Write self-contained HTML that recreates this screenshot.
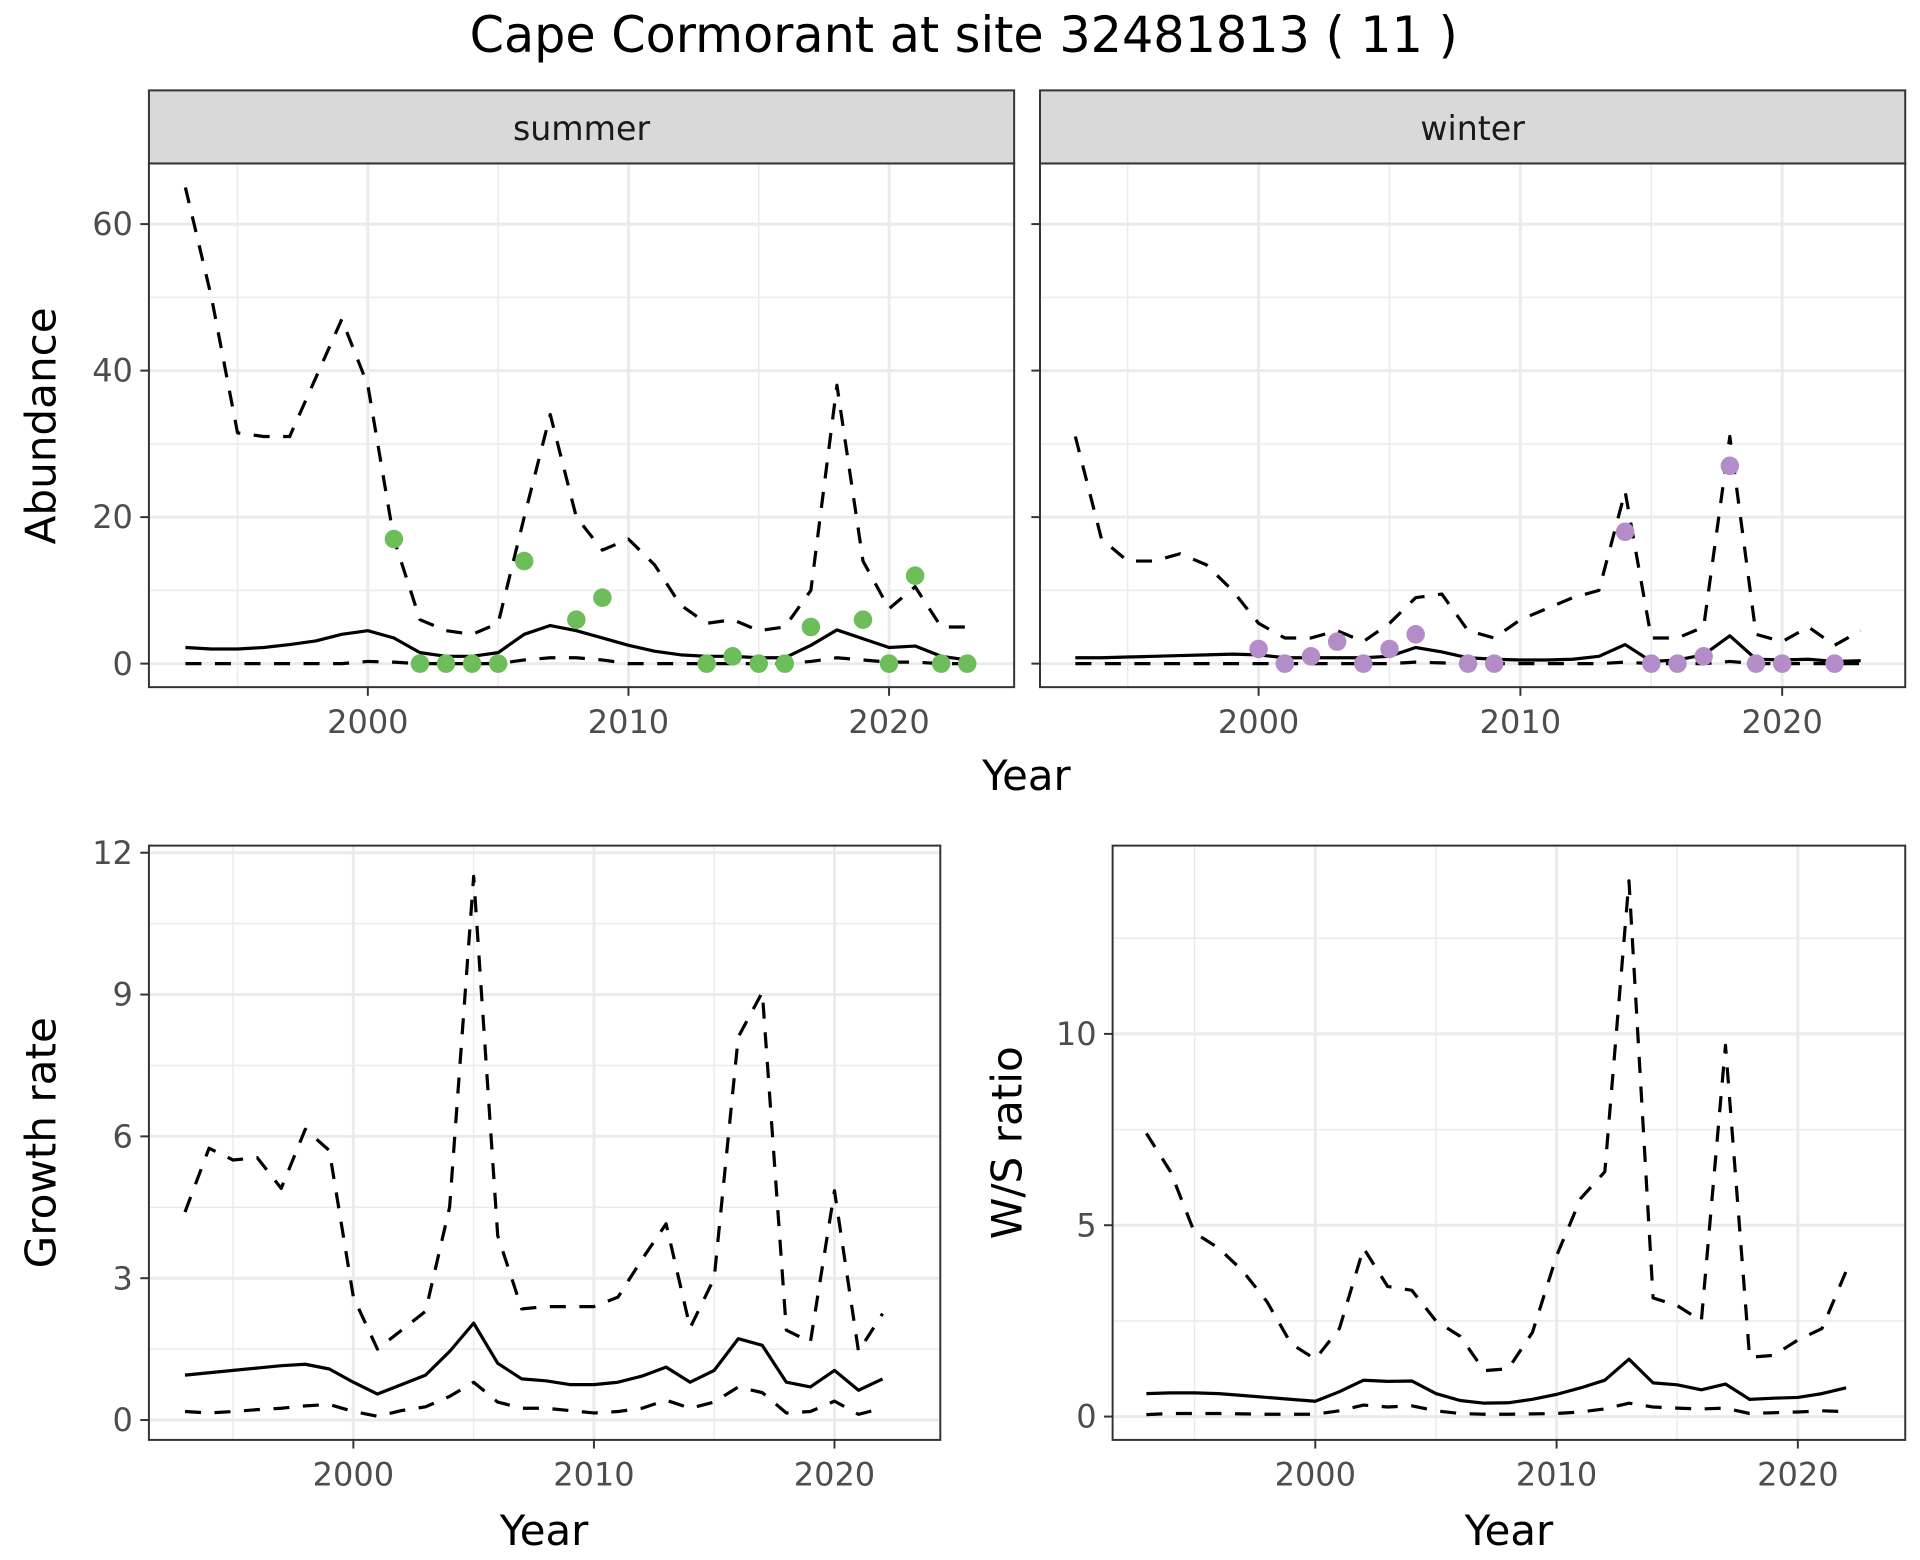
<!DOCTYPE html>
<html><head><meta charset="utf-8"><style>
html,body{margin:0;padding:0;background:#fff}
svg{display:block}
text{font-family:"DejaVu Sans","Liberation Sans",sans-serif}
</style></head><body>
<svg id="chart" width="1920" height="1560" viewBox="0 0 1560 1260" preserveAspectRatio="none" xmlns="http://www.w3.org/2000/svg">
<text x="783" y="42" font-size="40" text-anchor="middle" fill="#000">Cape Cormorant at site 32481813 ( 11 )</text>
</svg>
<script>
const yearsA = [1993,1994,1995,1996,1997,1998,1999,2000,2001,2002,2003,2004,2005,2006,2007,2008,2009,2010,2011,2012,2013,2014,2015,2016,2017,2018,2019,2020,2021,2022,2023];
const sumUpper = [65,50,31.5,31,31,39,47,38,17,6,4.5,4,5.5,20,34,20,15.5,17,13.5,8,5.5,6,4.5,5,10,38,14,7.5,10.5,5,5];
const sumMean = [2.2,2.0,2.0,2.2,2.6,3.1,4,4.5,3.5,1.5,1,1,1.5,4,5.2,4.5,3.5,2.5,1.7,1.2,1,1,0.8,0.8,2.5,4.6,3.4,2.2,2.4,1,0.5];
const sumLower = [0,0,0,0,0,0,0,0.3,0.2,0,0,0,0,0.5,0.8,0.8,0.5,0,0,0,0,0,0,0,0.3,0.8,0.5,0.2,0.2,0,0];
const sumPtYears = [2001,2002,2003,2004,2005,2006,2008,2009,2013,2014,2015,2016,2017,2019,2020,2021,2022,2023];
const sumPtVals = [17,0,0,0,0,14,6,9,0,1,0,0,5,6,0,12,0,0];
const winUpper = [31,17,14,14,15,13.5,10,5.5,3.5,3.5,4.5,3,5.5,9,9.5,4.5,3.5,6,7.5,9,10,23.5,3.5,3.5,5,31,4,3,5,2.5,4.5];
const winMean = [0.8,0.8,0.9,1,1.1,1.2,1.3,1.2,0.8,0.8,0.8,0.8,1,2.2,1.6,0.8,0.6,0.5,0.5,0.6,1,2.6,0.3,0.5,1.2,3.8,0.6,0.5,0.6,0.3,0.4];
const winLower = [0,0,0,0,0,0,0,0,0,0,0,0,0,0.2,0.1,0,0,0,0,0,0,0.2,0,0,0,0.3,0,0,0,0,0];
const winPtYears = [2000,2001,2002,2003,2004,2005,2006,2008,2009,2014,2015,2016,2017,2018,2019,2020,2022];
const winPtVals = [2,0,1,3,0,2,4,0,0,18,0,0,1,27,0,0,0];
const yearsB = [1993,1994,1995,1996,1997,1998,1999,2000,2001,2002,2003,2004,2005,2006,2007,2008,2009,2010,2011,2012,2013,2014,2015,2016,2017,2018,2019,2020,2021,2022];
const grUpper = [4.4,5.75,5.5,5.55,4.9,6.15,5.7,2.6,1.5,1.9,2.3,4.5,11.5,3.9,2.35,2.4,2.4,2.4,2.6,3.4,4.15,1.95,3,8.1,9.05,1.9,1.65,4.85,1.45,2.25];
const grMean = [0.95,1.0,1.05,1.1,1.15,1.18,1.08,0.8,0.55,0.75,0.95,1.45,2.05,1.2,0.87,0.83,0.75,0.75,0.8,0.93,1.12,0.8,1.05,1.72,1.58,0.8,0.7,1.05,0.63,0.87];
const grLower = [0.18,0.15,0.18,0.22,0.25,0.3,0.33,0.18,0.08,0.2,0.28,0.5,0.8,0.38,0.25,0.25,0.2,0.15,0.18,0.25,0.42,0.25,0.38,0.7,0.58,0.15,0.18,0.4,0.12,0.25];
const wsUpper = [7.4,6.4,4.8,4.4,3.8,3.0,1.9,1.5,2.3,4.4,3.4,3.3,2.5,2.1,1.2,1.25,2.2,4.2,5.7,6.4,14,3.1,2.9,2.5,9.7,1.55,1.6,2.0,2.3,3.8];
const wsMean = [0.6,0.62,0.62,0.6,0.55,0.5,0.45,0.4,0.65,0.95,0.92,0.93,0.6,0.42,0.35,0.36,0.45,0.58,0.75,0.95,1.5,0.88,0.83,0.7,0.85,0.45,0.48,0.5,0.6,0.75];
const wsLower = [0.05,0.08,0.08,0.08,0.07,0.06,0.06,0.06,0.15,0.3,0.25,0.28,0.15,0.08,0.06,0.06,0.07,0.08,0.12,0.2,0.35,0.25,0.22,0.2,0.22,0.08,0.1,0.12,0.15,0.13];
const xTicks = [2000,2010,2020];
const xMinor = [1995,2005,2015];
const abTicks = [0,20,40,60];
const grTicks = [0,3,6,9,12];
const wsTicks = [0,5,10];

const NS = 'http://www.w3.org/2000/svg';
const svg = document.getElementById('chart');
function el(tag, attrs, parent){const e=document.createElementNS(NS,tag);for(const k in attrs)e.setAttribute(k,attrs[k]);(parent||svg).appendChild(e);return e;}

function panel(name,cfg){
  const g=el('g',{});
  
  
  const sx=v=>cfg.x0+(v-cfg.xmin)/(cfg.xmax-cfg.xmin)*(cfg.x1-cfg.x0);
  const sy=v=>cfg.y1-(v-cfg.ymin)/(cfg.ymax-cfg.ymin)*(cfg.y1-cfg.y0);
  xMinor.forEach(v=>el('line',{x1:sx(v),x2:sx(v),y1:cfg.y0,y2:cfg.y1,stroke:'#ebebeb','stroke-width':1.2},g));
  for(let i=0;i<cfg.ticks.length;i++){const a=cfg.ticks[i],b=cfg.ticks[i+1]!==undefined?cfg.ticks[i+1]:a+(cfg.ticks[1]-cfg.ticks[0]);const m=(a+b)/2;if(m<cfg.ymax)el('line',{x1:cfg.x0,x2:cfg.x1,y1:sy(m),y2:sy(m),stroke:'#ebebeb','stroke-width':1.2},g);}
  xTicks.forEach(v=>el('line',{x1:sx(v),x2:sx(v),y1:cfg.y0,y2:cfg.y1,stroke:'#ebebeb','stroke-width':2.4},g));
  cfg.ticks.forEach(v=>el('line',{x1:cfg.x0,x2:cfg.x1,y1:sy(v),y2:sy(v),stroke:'#ebebeb','stroke-width':2.4},g));
  const line=(ys,vals,dash,nm)=>{const p=el('polyline',{points:ys.map((y,i)=>sx(y)+','+sy(vals[i])).join(' '),fill:'none',stroke:'#000','stroke-width':2.6,'stroke-dasharray':dash?'13 11':'none','stroke-linejoin':'round'},g);
    
    };
  line(cfg.years,cfg.upper,true,'upper-bound-line');
  line(cfg.years,cfg.lower,true,'lower-bound-line');
  line(cfg.years,cfg.mean,false,'mean-line');
  if(cfg.pts){cfg.pts.forEach((y,i)=>{const c=el('circle',{cx:sx(y),cy:sy(cfg.ptv[i]),r:7.5,fill:cfg.col},g);
    
    });}
  el('rect',{x:cfg.x0,y:cfg.y0,width:cfg.x1-cfg.x0,height:cfg.y1-cfg.y0,fill:'none',stroke:'#333','stroke-width':1.6},g);
  if(cfg.strip){el('rect',{x:cfg.x0,y:cfg.y0-59,width:cfg.x1-cfg.x0,height:59,fill:'#d9d9d9',stroke:'#333','stroke-width':1.6},g);
    const t=el('text',{x:(cfg.x0+cfg.x1)/2,y:cfg.y0-19,'font-size':27,'text-anchor':'middle',fill:'#1a1a1a'},g);t.textContent=cfg.strip;
    
    }
  xTicks.forEach(v=>{el('line',{x1:sx(v),x2:sx(v),y1:cfg.y1,y2:cfg.y1+7,stroke:'#333','stroke-width':1.6},g);
    const t=el('text',{x:sx(v),y:cfg.y1+37,'font-size':26,'text-anchor':'middle',fill:'#4d4d4d'},g);t.textContent=v;
    
    });
  cfg.ticks.forEach(v=>{el('line',{x1:cfg.x0-7,x2:cfg.x0,y1:sy(v),y2:sy(v),stroke:'#333','stroke-width':1.6},g);
    if(cfg.ylabels){const t=el('text',{x:cfg.x0-13,y:sy(v)+9,'font-size':26,'text-anchor':'end',fill:'#4d4d4d'},g);t.textContent=v;
    
    }});
}
panel('summer-panel',{x0:121,x1:824,y0:132,y1:555,xmin:1991.6,xmax:2024.8,ymin:-3.21,ymax:68.28,ticks:abTicks,ylabels:true,years:yearsA,upper:sumUpper,mean:sumMean,lower:sumLower,pts:sumPtYears,ptv:sumPtVals,col:'#6dbd5a',strip:'summer'});
panel('winter-panel',{x0:845,x1:1548,y0:132,y1:555,xmin:1991.65,xmax:2024.7,ymin:-3.21,ymax:68.28,ticks:abTicks,ylabels:false,years:yearsA,upper:winUpper,mean:winMean,lower:winLower,pts:winPtYears,ptv:winPtVals,col:'#b48cc8',strip:'winter'});
panel('growth-rate-panel',{x0:121,x1:764,y0:683,y1:1163,xmin:1991.5,xmax:2024.4,ymin:-0.42,ymax:12.15,ticks:grTicks,ylabels:true,years:yearsB,upper:grUpper,mean:grMean,lower:grLower});
panel('ws-ratio-panel',{x0:904,x1:1548,y0:683,y1:1163,xmin:1991.6,xmax:2024.45,ymin:-0.61,ymax:14.92,ticks:wsTicks,ylabels:true,years:yearsB,upper:wsUpper,mean:wsMean,lower:wsLower});

function label(txt,x,y,rot,nm){const t=el('text',{x:x,y:y,'font-size':34,'text-anchor':'middle',fill:'#000',transform:rot?`rotate(-90 ${x} ${y})`:''});t.textContent=txt;
  
  }
label('Year',834,638,false,'x-axis-title-top');
label('Abundance',45,344,true,'y-axis-title-abundance');
label('Year',442,1248,false,'x-axis-title-growth');
label('Growth rate',45,923,true,'y-axis-title-growth');
label('Year',1226,1248,false,'x-axis-title-ws');
label('W/S ratio',830,923,true,'y-axis-title-ws');
</script>
</body></html>
